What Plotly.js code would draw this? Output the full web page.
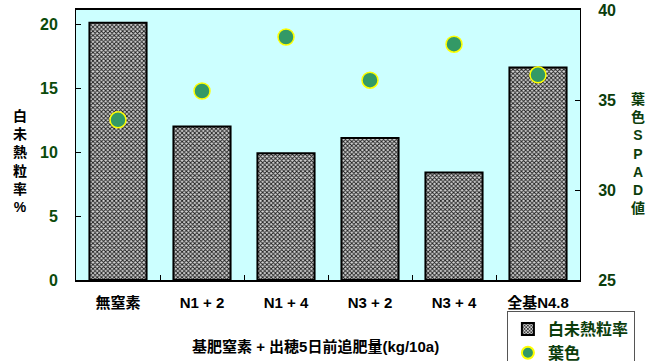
<!DOCTYPE html>
<html>
<head>
<meta charset="utf-8">
<script src="https://cdn.plot.ly/plotly-3.0.1.min.js"></script>
<style>
  html, body { margin: 0; padding: 0; background: #ffffff; }
  #chart { width: 654px; height: 361px; }
</style>
</head>
<body>
<div id="chart"></div>
<script>
// Treatments: basal N + topdressing 5 days before heading
const categories = ["無窒素", "N1 + 2", "N1 + 4", "N3 + 2", "N3 + 4", "全基N4.8"];
// Chalky (white immature) grain ratio, %
const chalkyRate = [20.1, 12.0, 9.9, 11.1, 8.4, 16.6];
// Leaf colour, SPAD value
const leafSpad = [33.9, 35.5, 38.5, 36.1, 38.1, 36.4];

const FONT = "Liberation Sans, Arial, 'Noto Sans CJK JP', sans-serif";
const GREEN_TXT = "#0b3d0b";

const traces = [
  {
    type: "bar",
    name: "<b>白未熱粒率</b>",
    x: categories,
    y: chalkyRate,
    yaxis: "y",
    width: 0.68,
    marker: {
      color: "#ffffff",
      line: { color: "#000000", width: 2 },
      pattern: { shape: "x", fgcolor: "#1a1a1a", bgcolor: "#d4d4d4", size: 3, solidity: 0.5, fillmode: "replace" }
    },
    hoverinfo: "skip"
  },
  {
    type: "scatter",
    mode: "markers",
    name: "<b>葉色</b>",
    x: categories,
    y: leafSpad,
    yaxis: "y2",
    marker: { size: 16, color: "#339966", line: { color: "#ffff00", width: 1.5 } },
    hoverinfo: "skip"
  }
];

const layout = {
  width: 654,
  height: 361,
  margin: { l: 76, r: 74, t: 10, b: 81, autoexpand: false },
  paper_bgcolor: "#ffffff",
  plot_bgcolor: "#ccffff",
  font: { family: FONT, size: 14, color: "#000000" },
  showlegend: true,
  legend: {
    x: 0.855, y: -0.115, xanchor: "left", yanchor: "top",
    bgcolor: "#ffffff",
    bordercolor: "#555555", borderwidth: 1,
    itemsizing: "constant",
    itemwidth: 30,
    font: { family: FONT, size: 16, color: GREEN_TXT },
    tracegroupgap: 0
  },
  xaxis: {
    type: "category",
    showgrid: false,
    showline: true, linecolor: "#000000", linewidth: 2,
    mirror: true,
    ticks: "inside", tickson: "boundaries", ticklen: 5, tickcolor: "#000000",
    ticklabelstandoff: 8,
    tickfont: { family: FONT, size: 15, color: "#000000", weight: "bold" },
    fixedrange: true
  },
  yaxis: {
    range: [0, 21.1],
    tickvals: [0, 5, 10, 15, 20],
    showgrid: false, zeroline: false,
    showline: true, linecolor: "#000000", linewidth: 1,
    ticks: "inside", ticklen: 5, tickcolor: "#000000",
    ticklabelstandoff: 14,
    tickfont: { family: FONT, size: 16, color: "#0b4a0b", weight: "bold" }
  },
  yaxis2: {
    overlaying: "y", side: "right",
    range: [25, 40],
    tickvals: [25, 30, 35, 40],
    showgrid: false, zeroline: false,
    showline: true, linecolor: "#000000", linewidth: 1,
    ticks: "inside", ticklen: 5, tickcolor: "#000000",
    ticklabelstandoff: 14,
    tickfont: { family: FONT, size: 16, color: "#0b3d0b", weight: "bold" }
  },
  annotations: [
    {
      text: "<b>白<br>未<br>熱<br>粒<br>率<br>%</b>",
      xref: "paper", yref: "paper", x: -0.112, y: 0.44,
      xanchor: "center", yanchor: "middle", showarrow: false,
      font: { family: FONT, size: 14, color: "#000000" }
    },
    {
      text: "<b>葉<br>色<br>S<br>P<br>A<br>D<br>値</b>",
      xref: "paper", yref: "paper", x: 1.115, y: 0.467,
      xanchor: "center", yanchor: "middle", showarrow: false,
      font: { family: FONT, size: 14, color: "#0b3d0b" }
    },
    {
      text: "<b>基肥窒素 + 出穂5日前追肥量(kg/10a)</b>",
      xref: "paper", yref: "paper", x: 0.475, y: -0.245,
      xanchor: "center", yanchor: "middle", showarrow: false,
      font: { family: FONT, size: 15, color: "#000000" }
    }
  ]
};

Plotly.newPlot("chart", traces, layout, { displayModeBar: false, staticPlot: true });
</script>
</body>
</html>
